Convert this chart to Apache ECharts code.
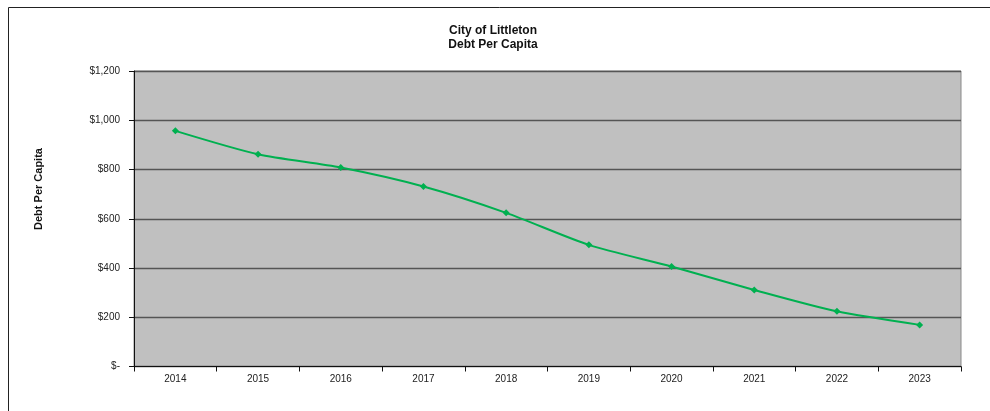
<!DOCTYPE html>
<html>
<head>
<meta charset="utf-8">
<script src="https://cdn.jsdelivr.net/npm/echarts@6/dist/echarts.min.js"></script>
<style>
html,body{margin:0;padding:0;background:#fff;}
#chart{width:990px;height:411px;}
</style>
</head>
<body>
<div id="chart"></div>
<script>
const categories = ['2014','2015','2016','2017','2018','2019','2020','2021','2022','2023'];
const debtPerCapita = [957, 862, 808, 731, 624, 494, 406, 311, 224, 169];
const yTicks = [0, 200, 400, 600, 800, 1000, 1200];
const titleLines = ['City of Littleton', 'Debt Per Capita'];
const yAxisTitle = 'Debt Per Capita';

const chart = echarts.init(document.getElementById('chart'));
const font = 'Arial, "Liberation Sans", sans-serif';
chart.setOption({
  animation: false,
  backgroundColor: '#ffffff',
  title: {
    text: titleLines.join('\n'),
    left: 488, top: 19, textAlign: 'center',
    textStyle: { fontFamily: font, fontSize: 12, fontWeight: 'bold', color: '#111', lineHeight: 14 }
  },
  graphic: [
    { type: 'rect', silent: true, shape: { x: 8.5, y: 7.5, width: 1200, height: 800 },
      style: { fill: 'none', stroke: '#222', lineWidth: 1 } },
    { type: 'text', silent: true, x: 39, y: 189, rotation: Math.PI / 2,
      style: { text: yAxisTitle, font: 'bold 11px ' + font, fill: '#111', align: 'center', verticalAlign: 'middle' } }
  ],
  grid: {
    left: 134, right: 29, top: 71, bottom: 44.5,
    show: true, backgroundColor: '#C0C0C0', borderColor: '#8a8a8a', borderWidth: 1
  },
  xAxis: {
    type: 'category', data: categories, boundaryGap: true,
    axisLine: { show: true, lineStyle: { color: '#111', width: 1 } },
    axisTick: { show: true, length: 5, lineStyle: { color: '#111' } },
    axisLabel: { fontFamily: font, fontSize: 10, color: '#222', margin: 8 }
  },
  yAxis: {
    type: 'value', min: 0, max: 1200, interval: 200,
    axisLine: { show: true, lineStyle: { color: '#111', width: 1 } },
    axisTick: { show: true, length: 5, lineStyle: { color: '#111' } },
    axisLabel: {
      fontFamily: font, fontSize: 10, color: '#222', margin: 14,
      formatter: v => v === 0 ? '$-' : '$' + v.toLocaleString('en-US')
    },
    splitLine: { show: true, lineStyle: { color: '#555', width: 1.3 } }
  },
  series: [{
    type: 'line', data: debtPerCapita, smooth: 0.25,
    symbol: 'diamond', symbolSize: 7,
    lineStyle: { color: '#00B050', width: 2 },
    itemStyle: { color: '#00B050' }
  }]
});
</script>
</body>
</html>
